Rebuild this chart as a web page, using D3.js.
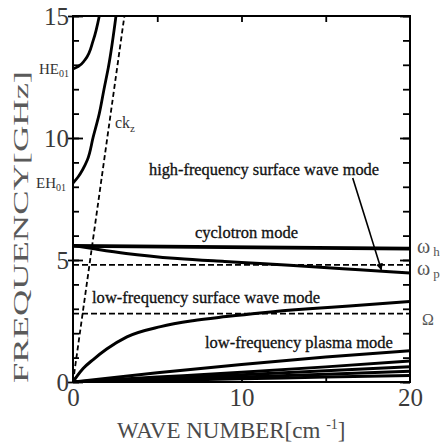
<!DOCTYPE html>
<html>
<head>
<meta charset="utf-8">
<script src="https://cdn.jsdelivr.net/npm/d3@7"></script>
<style>
  html, body { margin: 0; padding: 0; background: #fff; }
  svg { display: block; font-family: "Liberation Serif", "Times New Roman", serif; }
</style>
</head>
<body>
<div id="chart"></div>
<script>
// ---- data ----
const xTickLabels = [0, 10, 20];
const yTickLabels = [0, 5, 10, 15];

const kHE01 = [0, 0.31, 0.71, 1.2, 1.56];
const fHE01 = [12.83, 12.93, 13.2, 14.0, 15];

const kEH01 = [0, 0.3, 0.57, 0.85, 1.2, 1.56, 1.84, 2.1, 2.55];
const fEH01 = [8.15, 8.4, 8.7, 9.1, 10.05, 11.0, 12.0, 12.9, 15];

const kLight = [0, 3.05];
const fLight = [0, 15];

const kCyclotron = [0, 20];
const fCyclotron = [5.58, 5.47];

const kHighSurf = [0, 1.36, 3.15, 6.2, 9, 11.1, 14, 17, 20];
const fHighSurf = [5.6, 5.45, 5.27, 5.06, 4.94, 4.86, 4.73, 4.6, 4.47];

const kLowSurf = [0, 0.25, 0.6, 1.2, 2, 3.2, 5.2, 7.1, 9.1, 11.1, 14, 16.4, 20];
const fLowSurf = [0, 0.25, 0.55, 0.92, 1.35, 1.85, 2.27, 2.51, 2.68, 2.83, 3.0, 3.11, 3.3];

const kPlasma = [0, 5, 10, 15, 20];
const fPlasmaA = [0, 0.38, 0.72, 1.02, 1.28];
const fPlasmaB = [0, 0.2, 0.4, 0.62, 0.86];
const fPlasmaC = [0, 0.14, 0.3, 0.46, 0.62];
const fPlasmaD = [0, 0.1, 0.2, 0.32, 0.44];
const fPlasmaE = [0, 0.06, 0.13, 0.2, 0.27];

const omegaP = 4.8;
const OmegaCap = 2.8;

// ---- layout ----
const W = 445, H = 445;
const x = d3.scaleLinear().domain([0, 20]).range([73, 410]);
const y = d3.scaleLinear().domain([0, 15]).range([382, 16]);

const svg = d3.select("#chart").append("svg").attr("width", W).attr("height", H);

const zip = (ks, fs) => ks.map((k, i) => [k, fs[i]]);
const line = d3.line().x(d => x(d[0])).y(d => y(d[1])).curve(d3.curveMonotoneX);
const lineY = d3.line().x(d => x(d[0])).y(d => y(d[1])).curve(d3.curveMonotoneY);

const plot = svg.append("g");
plot.append("clipPath").attr("id", "clip").append("rect")
  .attr("x", x(0)).attr("y", y(15)).attr("width", x(20) - x(0)).attr("height", y(0) - y(15));
const g = plot.append("g").attr("clip-path", "url(#clip)");

// dashed reference lines
[omegaP, OmegaCap].forEach(v => {
  g.append("path").attr("d", line([[0, v], [20, v]]))
    .attr("fill", "none").attr("stroke", "#000").attr("stroke-width", 1.8)
    .attr("stroke-dasharray", "6,3");
});
g.append("path").attr("d", line(zip(kLight, fLight)))
  .attr("fill", "none").attr("stroke", "#000").attr("stroke-width", 1.8)
  .attr("stroke-dasharray", "5,3");

// solid curves
const solid = (ks, fs, w, gen) => g.append("path").attr("d", (gen || line)(zip(ks, fs)))
  .attr("fill", "none").attr("stroke", "#000").attr("stroke-width", w);

solid(kHE01, fHE01, 2.8, lineY);
solid(kEH01, fEH01, 2.8, lineY);
solid(kCyclotron, fCyclotron, 3.8);
solid(kHighSurf, fHighSurf, 3);
solid(kLowSurf, fLowSurf, 3);
[fPlasmaA, fPlasmaB, fPlasmaC, fPlasmaD, fPlasmaE].forEach(fs => solid(kPlasma, fs, 3));

// ---- axes / frame ----
const frame = svg.append("g");
frame.append("rect").attr("x", x(0)).attr("y", y(15))
  .attr("width", x(20) - x(0)).attr("height", y(0) - y(15))
  .attr("fill", "none").attr("stroke", "#000").attr("stroke-width", 2);

const noLabel = a => a.tickFormat("");
function tickAxis(axis, tf) {
  const gg = svg.append("g").attr("transform", tf).call(axis);
  gg.select(".domain").remove();
  gg.selectAll("line").attr("stroke", "#000").attr("stroke-width", 1.8);
  return gg;
}
// minor ticks (1 GHz) inward on left and right
tickAxis(noLabel(d3.axisLeft(y).tickValues(d3.range(0, 16, 1)).tickSize(-6)), `translate(${x(0)},0)`);
tickAxis(noLabel(d3.axisRight(y).tickValues(d3.range(0, 16, 1)).tickSize(-7)), `translate(${x(20)},0)`);
// major ticks crossing the left axis, and longer inward on the right
tickAxis(noLabel(d3.axisLeft(y).tickValues(yTickLabels).tickSize(5)), `translate(${x(0)},0)`);
tickAxis(noLabel(d3.axisLeft(y).tickValues(yTickLabels).tickSize(-10)), `translate(${x(0)},0)`);
tickAxis(noLabel(d3.axisRight(y).tickValues(yTickLabels).tickSize(-10)), `translate(${x(20)},0)`);
// x ticks every 5 inward on bottom and top
tickAxis(noLabel(d3.axisBottom(x).tickValues([5, 10, 15]).tickSize(-6)), `translate(0,${y(0)})`);
tickAxis(noLabel(d3.axisTop(x).tickValues([5, 10, 15]).tickSize(-6)), `translate(0,${y(15)})`);

// tick labels
const yl = svg.append("g").attr("transform", `translate(${x(0)},0)`)
  .call(d3.axisLeft(y).tickValues(yTickLabels).tickSize(0).tickPadding(4).tickFormat(d3.format("d")));
yl.select(".domain").remove();
yl.selectAll("text").attr("font-size", 25).attr("fill", "#3a3a3a")
  .attr("font-family", "Liberation Serif, serif");

const xl = svg.append("g").attr("transform", `translate(0,${y(0)})`)
  .call(d3.axisBottom(x).tickValues(xTickLabels).tickSize(0).tickPadding(6).tickFormat(d3.format("d")));
xl.select(".domain").remove();
xl.selectAll("text").attr("font-size", 25).attr("fill", "#3a3a3a")
  .attr("font-family", "Liberation Serif, serif");

// axis titles
const xt = svg.append("text").attr("x", 117).attr("y", 438)
  .attr("font-size", 23).attr("fill", "#4a4a4a");
xt.append("tspan").text("WAVE NUMBER[cm ");
xt.append("tspan").attr("font-size", 14).attr("dy", -9).text("-1");
xt.append("tspan").attr("dy", 9).text("]");

svg.append("text")
  .attr("transform", `translate(28,383) rotate(-90)`)
  .attr("font-size", 22).attr("fill", "#5a5a5a")
  .attr("textLength", 312).attr("lengthAdjust", "spacingAndGlyphs")
  .text("FREQUENCY[GHz]");

// ---- annotations ----
const label = (txt, k, f, len) => svg.append("text")
  .attr("x", x(k)).attr("y", y(f)).attr("font-size", 16).attr("fill", "#111")
  .attr("stroke", "#111").attr("stroke-width", 0.3)
  .attr("textLength", len).attr("lengthAdjust", "spacingAndGlyphs").text(txt);

label("high-frequency surface wave mode", 4.51, 8.48, 230);
label("cyclotron mode", 7.24, 5.9, 103);
label("low-frequency surface wave mode", 1.13, 3.24, 228);
label("low-frequency plasma mode", 7.83, 1.39, 188);

// ck_z
const ck = svg.append("text").attr("x", x(2.49)).attr("y", y(10.4)).attr("font-size", 16).attr("fill", "#333");
ck.append("tspan").text("ck");
ck.append("tspan").attr("font-size", 11).attr("dy", 4).text("z");

// mode labels left of axis
function modeLbl(main, sub, f, endX) {
  const t = svg.append("text").attr("x", endX).attr("y", y(f) + 5)
    .attr("text-anchor", "end").attr("font-size", 15).attr("fill", "#333");
  t.append("tspan").text(main);
  t.append("tspan").attr("font-size", 10).attr("dy", 3).text(sub);
}
modeLbl("HE", "01", 12.83, x(0) - 4);
modeLbl("EH", "01", 8.15, x(0) - 7);

// right side labels
function rightLbl(main, sub, f, size) {
  const t = svg.append("text").attr("x", x(20) + 7).attr("y", y(f) + 5)
    .attr("font-size", size).attr("fill", "#555");
  t.append("tspan").text(main);
  if (sub) t.append("tspan").attr("font-size", 13).attr("dx", 3).attr("dy", 3).text(sub);
}
rightLbl("ω", "h", 5.5, 20);
rightLbl("ω", "p", 4.6, 20);
svg.append("text").attr("x", x(20) + 12).attr("y", y(OmegaCap) + 11)
  .attr("font-size", 16).attr("fill", "#555").text("Ω");

// arrow from label to high-frequency surface wave curve
const defs = svg.append("defs");
defs.append("marker").attr("id", "ah").attr("viewBox", "0 0 10 10")
  .attr("refX", 9).attr("refY", 5).attr("markerWidth", 7).attr("markerHeight", 9)
  .attr("markerUnits", "userSpaceOnUse").attr("orient", "auto")
  .append("path").attr("d", "M0,0 L10,5 L0,10 z").attr("fill", "#000");
const arrowPts = [[16.6, 8.36], [18.3, 4.6]];
svg.append("line")
  .attr("x1", x(arrowPts[0][0])).attr("y1", y(arrowPts[0][1]))
  .attr("x2", x(arrowPts[1][0])).attr("y2", y(arrowPts[1][1]))
  .attr("stroke", "#000").attr("stroke-width", 1.6).attr("marker-end", "url(#ah)");
</script>
</body>
</html>
